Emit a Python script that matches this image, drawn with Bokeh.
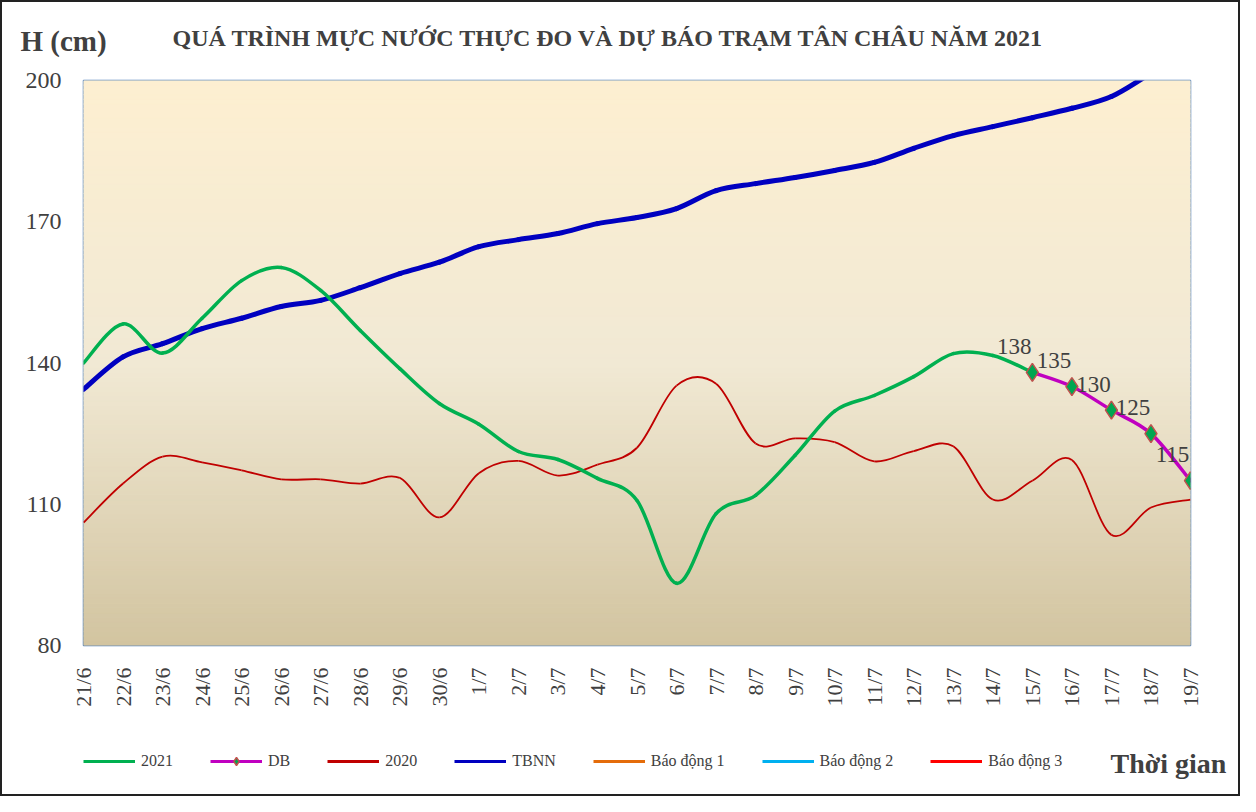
import numpy as np
from bokeh.plotting import figure
from bokeh.layouts import column
from bokeh.models import Range1d, FixedTicker, Legend, LegendItem, Label
from bokeh.embed import file_html
from bokeh.resources import INLINE
from bokeh.core.properties import value

# ---------------- data ----------------
dates = ["21/6", "22/6", "23/6", "24/6", "25/6", "26/6", "27/6", "28/6", "29/6", "30/6",
         "1/7", "2/7", "3/7", "4/7", "5/7", "6/7", "7/7", "8/7", "9/7", "10/7",
         "11/7", "12/7", "13/7", "14/7", "15/7", "16/7", "17/7", "18/7", "19/7"]

# measured 2021 (21/6 .. 15/7)
val_2021 = [140.0, 148.3, 142.1, 149.5, 157.5, 160.3, 155.4, 146.9, 138.8, 131.4,
            127.0, 121.2, 119.5, 115.5, 110.8, 93.2, 108.0, 111.9, 120.4, 129.8,
            133.1, 137.1, 142.0, 141.6, 138.0]

# forecast (DB)
db_dates = ["15/7", "16/7", "17/7", "18/7", "19/7"]
val_db = [138, 135, 130, 125, 115]

# 2020
val_2020 = [106.1, 114.4, 120.1, 118.9, 117.2, 115.3, 115.3, 114.4, 115.6, 107.2,
            116.6, 119.2, 116.1, 118.4, 122.0, 135.2, 135.6, 122.9, 124.0, 123.2,
            119.1, 121.3, 122.3, 111.0, 115.0, 119.4, 103.5, 109.3, 111.0]

# TBNN (multi-year average)
val_tbnn = [134.4, 141.3, 144.1, 147.3, 149.5, 152.0, 153.3, 156.0, 159.0, 161.4,
            164.7, 166.2, 167.5, 169.6, 170.9, 172.8, 176.6, 178.1, 179.4, 180.9,
            182.6, 185.6, 188.3, 190.2, 192.1, 194.1, 196.6, 201.5, 206.0]

# alarm levels (outside the shown range)
alarm_names = ["Báo động 1", "Báo động 2", "Báo động 3"]
alarm_values = [350, 400, 450]
alarm_colors = ["#e46c0a", "#00b0f0", "#ff0000"]

y_ticks = [80, 110, 140, 170, 200]

title_text = "QUÁ TRÌNH MỰC NƯỚC THỰC ĐO VÀ DỰ BÁO TRẠM TÂN CHÂU NĂM 2021"
ylabel_text = "H (cm)"
xlabel_text = "Thời gian"
FONT = "Liberation Serif"
TXT = "#404040"

# series styles
C2021, C_DB, C2020, C_TB = "#00b050", "#c000c0", "#c00000", "#0000c0"

# ---------------- helpers ----------------
def smooth(xs, ys):
    xs = np.asarray(xs, float)
    ys = np.asarray(ys, float)
    n = len(xs)
    out = dict(x0=[], y0=[], x1=[], y1=[], cx0=[], cy0=[], cx1=[], cy1=[])
    for i in range(n - 1):
        a = i - 1 if i > 0 else i
        d = i + 2 if i + 2 < n else i + 1
        out["x0"].append(xs[i]); out["y0"].append(ys[i])
        out["x1"].append(xs[i + 1]); out["y1"].append(ys[i + 1])
        out["cx0"].append(xs[i] + (xs[i + 1] - xs[a]) / 6)
        out["cy0"].append(ys[i] + (ys[i + 1] - ys[a]) / 6)
        out["cx1"].append(xs[i + 1] - (xs[d] - xs[i]) / 6)
        out["cy1"].append(ys[i + 1] - (ys[d] - ys[i]) / 6)
    return out

def mix(c1, c2, t):
    a = [int(c1[k:k + 2], 16) for k in (1, 3, 5)]
    b = [int(c2[k:k + 2], 16) for k in (1, 3, 5)]
    return "#%02x%02x%02x" % tuple(int(round(a[j] + (b[j] - a[j]) * t)) for j in range(3))

# ---------------- main figure ----------------
idx_all = list(range(len(dates)))
idx_2021 = idx_all[:len(val_2021)]
idx_db = [dates.index(d) for d in db_dates]

p = figure(frame_width=1107, frame_height=565, output_backend="svg", toolbar_location=None,
           x_range=Range1d(0, len(dates) - 1), y_range=Range1d(80, 200),
           min_border_left=81, min_border_right=48, min_border_top=78, min_border_bottom=66,
           background_fill_color="#f1e9d4", border_fill_color="white", title=None)
p.grid.visible = False
p.outline_line_color = "#4f81bd"
p.outline_line_width = 1.5

# gradient background (plot-area styling)
edges = np.linspace(80, 200, 121)
cols = []
for k in range(120):
    frac = (200 - (edges[k] + edges[k + 1]) / 2) / 120.0  # 0 top, 1 bottom
    if frac < 0.5:
        cols.append(mix("#fdefd1", "#f1e9d4", frac / 0.5))
    else:
        cols.append(mix("#f1e9d4", "#d2c4a0", (frac - 0.5) / 0.5))
p.quad(left=0, right=len(dates) - 1, bottom=edges[:-1], top=edges[1:],
       fill_color=cols, line_color=cols, line_width=1, level="underlay")

# axes
p.xaxis.ticker = FixedTicker(ticks=idx_all)
p.xaxis.major_label_overrides = {i: d for i, d in enumerate(dates)}
p.xaxis.major_label_orientation = np.pi / 2
p.yaxis.ticker = FixedTicker(ticks=y_ticks)
for ax in (p.xaxis, p.yaxis):
    ax.axis_line_color = None
    ax.major_tick_line_color = None
    ax.minor_tick_line_color = None
    ax.major_tick_out = 0
    ax.major_tick_in = 0
    ax.major_label_text_font = FONT
    ax.major_label_text_color = TXT
p.xaxis.major_label_text_font_size = "22px"
p.yaxis.major_label_text_font_size = "24px"
p.xaxis.major_label_standoff = 22
p.yaxis.major_label_standoff = 22

# series
for v, c in zip(alarm_values, alarm_colors):
    p.line(idx_all, [v] * len(idx_all), line_color=c, line_width=2.5)
p.bezier(**smooth(idx_all, val_2020), line_color=C2020, line_width=1.8)
p.bezier(**smooth(idx_all, val_tbnn), line_color=C_TB, line_width=5, line_cap="round")
p.bezier(**smooth(idx_2021, val_2021), line_color=C2021, line_width=3.5, line_cap="round")
p.bezier(**smooth(idx_db, val_db), line_color=C_DB, line_width=3.5, line_cap="round")
p.scatter(idx_db, val_db, marker="diamond", size=18, fill_color="#00a651",
          line_color="#c0504d", line_width=1.5)
p.text(idx_db, val_db, text=[str(v) for v in val_db], text_font=value(FONT),
       text_font_size=value("23px"), text_color=TXT, text_align="center",
       text_baseline="middle", x_offset=-18, y_offset=-26)

# titles in the top panel
p.add_layout(Label(x=-63, y=40, x_units="screen", y_units="screen", text=ylabel_text,
                   text_font=FONT, text_font_style="bold", text_font_size="29px",
                   text_color=TXT, text_align="left", text_baseline="middle"), "above")
p.add_layout(Label(x=89, y=11, x_units="screen", y_units="screen", text=title_text,
                   text_font=FONT, text_font_style="bold", text_font_size="24px",
                   text_color=TXT, text_align="left", text_baseline="middle"), "above")

# ---------------- legend strip (same series, drawn off-range) ----------------
q = figure(width=1236, height=83, output_backend="svg", toolbar_location=None,
           x_range=Range1d(0, len(dates) - 1), y_range=Range1d(1000, 1001),
           x_axis_type=None, y_axis_type=None,
           min_border_left=0, min_border_right=0, min_border_top=0, min_border_bottom=0,
           background_fill_color="white", border_fill_color="white", title=None)
q.grid.visible = False
q.outline_line_color = None

l2021 = q.line(idx_2021, val_2021, line_color=C2021, line_width=3)
ldb = q.line(idx_db, val_db, line_color=C_DB, line_width=3)
ldbm = q.scatter(idx_db, val_db, marker="diamond", size=11, fill_color="#00a651",
                 line_color="#c0504d", line_width=1.5)
l2020 = q.line(idx_all, val_2020, line_color=C2020, line_width=3)
ltb = q.line(idx_all, val_tbnn, line_color=C_TB, line_width=3)
lal = [q.line(idx_all, [v] * len(idx_all), line_color=c, line_width=3)
       for v, c in zip(alarm_values, alarm_colors)]

items = [LegendItem(label="2021", renderers=[l2021]),
         LegendItem(label="DB", renderers=[ldb, ldbm]),
         LegendItem(label="2020", renderers=[l2020]),
         LegendItem(label="TBNN", renderers=[ltb])]
for name, r in zip(alarm_names, lal):
    items.append(LegendItem(label=name, renderers=[r]))
legend = Legend(items=items, location=(0, 23), orientation="horizontal",
                spacing=37, glyph_width=52, glyph_height=20, label_standoff=6,
                padding=0, margin=0, border_line_color=None, background_fill_alpha=0,
                label_text_font=FONT, label_text_font_size="16px",
                label_text_color=TXT, label_text_baseline="middle")
q.add_layout(legend)
q.add_layout(Label(x=1027, y=-21, x_units="screen", y_units="screen", text=xlabel_text,
                   text_font=FONT, text_font_style="bold", text_font_size="28px",
                   text_color=TXT, text_align="left", text_baseline="middle"), "above")

layout = column(p, q, spacing=0)
layout.styles = {"border": "2px solid #222222"}

open("out.html", "w").write(file_html(layout, INLINE))
